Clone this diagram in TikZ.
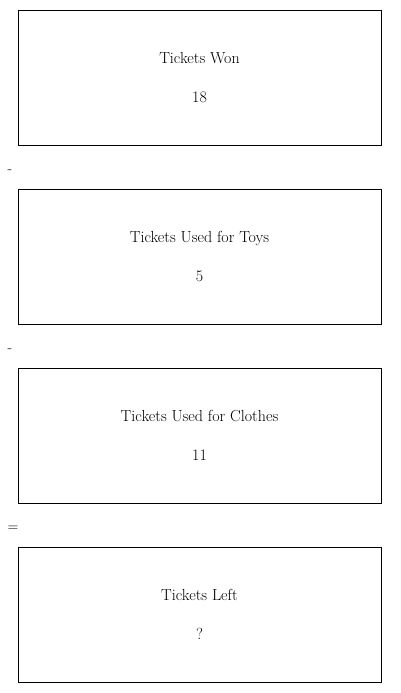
\documentclass[tikz,border=0pt]{standalone}
\usepackage{tikz}

\tikzset{
  tbox/.style = {draw, line width=0.9pt, minimum width=363, minimum height=135,
                 align=center, font=\fontsize{16}{39}\selectfont},
  op/.style   = {font=\fontsize{15}{18}\selectfont}
}

\begin{document}
\begin{tikzpicture}[x=1pt,y=-1pt]
\useasboundingbox (0,0) rectangle (400,693);

\node[tbox] (won)     at (199.5,77.5)  {Tickets Won\\18};
\node[op]   (minusA)  at (10,172)      {-};
\node[tbox] (toys)    at (199.5,256.5) {Tickets Used for Toys\\5};
\node[op]   (minusB)  at (10,351)      {-};
\node[tbox] (clothes) at (199.5,435.5) {Tickets Used for Clothes\\11};
\node[op]   (equals)  at (13,529)      {=};
\node[tbox] (left)    at (199.5,614.5) {Tickets Left\\?};

\end{tikzpicture}
\end{document}
